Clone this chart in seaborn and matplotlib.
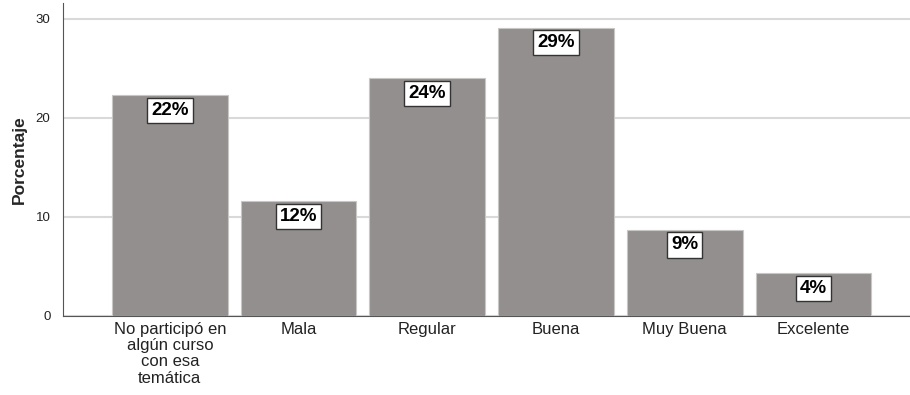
import matplotlib
matplotlib.use('Agg')
import matplotlib.pyplot as plt
import seaborn as sns
import pandas as pd

categorias = ['No participó en\nalgún curso\ncon esa\ntemática', 'Mala', 'Regular',
              'Buena', 'Muy Buena', 'Excelente']
porcentajes = [22.3, 11.6, 24.0, 29.1, 8.7, 4.3]
etiquetas = ['22%', '12%', '24%', '29%', '9%', '4%']

sns.set_style('white')
plt.rcParams['font.family'] = ['Liberation Sans', 'DejaVu Sans']

df = pd.DataFrame({'Categoria': categorias, 'Porcentaje': porcentajes})

fig = plt.figure(figsize=(9.1, 3.95), dpi=100)
ax = fig.add_axes([63 / 910, 79 / 395, 1 - 63 / 910, (316 - 3) / 395])

sns.barplot(data=df, x='Categoria', y='Porcentaje', color='#938f8e', saturation=1,
            width=0.9, edgecolor='#c9c7c6', linewidth=0.8, ax=ax, zorder=3)

ax.bar_label(ax.containers[0], labels=etiquetas, label_type='edge', padding=-17,
             fontsize=13.5, fontweight='bold', color='black', zorder=5,
             bbox=dict(boxstyle='square,pad=0.22', facecolor='white', edgecolor='#333333', linewidth=1))

ax.set_xlim(-0.83, 5.75)
ax.set_ylim(0, 31.6)
ax.set_yticks([0, 10, 20, 30])
ax.yaxis.grid(True, color='#d9d9d9', linewidth=1.5, zorder=0)
ax.set_axisbelow(True)

for s in ['top', 'right']:
    ax.spines[s].set_visible(False)
ax.spines['left'].set_color('#555555')
ax.spines['bottom'].set_color('#555555')

ax.tick_params(axis='y', length=0, labelsize=9.5, pad=9, colors='#222222')
ax.tick_params(axis='x', length=0, labelsize=12, pad=4, colors='#222222')
for t in ax.get_xticklabels():
    t.set_linespacing(1.12)
ax.set_xlabel('')
ax.set_ylabel('Porcentaje', fontsize=12.5, fontweight='bold', labelpad=6)

fig.savefig('out.png', dpi=100)
